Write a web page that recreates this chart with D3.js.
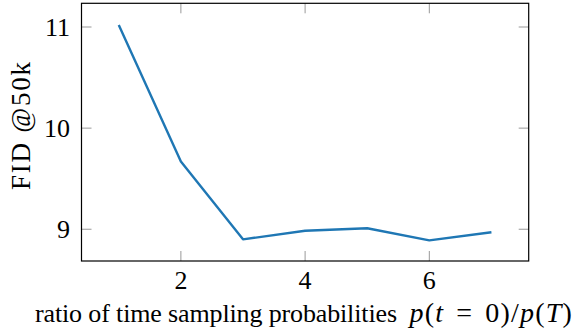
<!DOCTYPE html>
<html><head><meta charset="utf-8">
<script src="https://cdn.jsdelivr.net/npm/d3@7"></script>
<style>body{margin:0;background:#fff}svg{display:block}</style>
</head><body>
<svg id="c" width="574" height="332"></svg>
<script>
const ratios = [1, 2, 3, 4, 5, 6, 7];
const fid = [11.02, 9.67, 8.90, 8.985, 9.01, 8.89, 8.97];
const xTicks = [2, 4, 6];
const yTicks = [9, 10, 11];

const svg = d3.select("#c");
const L = 81.5, R = 528.7, T = 3.3, B = 261;
const x = d3.scaleLinear().domain([0.4, 7.6]).range([L, R]);
const y = d3.scaleLinear().domain([8.686, 11.2345]).range([B, T]);
const font = "'Liberation Serif', serif";
const tickLen = 10;
const fs = 26;

const g = svg.append("g");
xTicks.forEach(v => {
  g.append("line").attr("x1", x(v)).attr("x2", x(v)).attr("y1", B).attr("y2", B - tickLen).attr("stroke", "#999").attr("stroke-width", 1);
  g.append("line").attr("x1", x(v)).attr("x2", x(v)).attr("y1", T).attr("y2", T + tickLen).attr("stroke", "#999").attr("stroke-width", 1);
  g.append("text").attr("x", x(v)).attr("y", 289).attr("text-anchor", "middle")
    .attr("font-family", font).attr("font-size", fs).text(v);
});
yTicks.forEach(v => {
  g.append("line").attr("x1", L).attr("x2", L + tickLen).attr("y1", y(v)).attr("y2", y(v)).attr("stroke", "#999").attr("stroke-width", 1);
  g.append("line").attr("x1", R).attr("x2", R - tickLen).attr("y1", y(v)).attr("y2", y(v)).attr("stroke", "#999").attr("stroke-width", 1);
  g.append("text").attr("x", 70).attr("y", y(v) + 8.8).attr("text-anchor", "end")
    .attr("font-family", font).attr("font-size", fs).text(v);
});

const line = d3.line().x((d, i) => x(ratios[i])).y(d => y(d));
svg.append("path").datum(fid).attr("d", line).attr("fill", "none")
  .attr("stroke", "#1f77b4").attr("stroke-width", 2.4).attr("stroke-linejoin", "round");

svg.append("rect").attr("x", L).attr("y", T).attr("width", R - L).attr("height", B - T)
  .attr("fill", "none").attr("stroke", "#000").attr("stroke-width", 1.2);

svg.append("text").attr("x", 35).attr("y", 321.5).attr("text-anchor", "start")
  .attr("font-family", font).attr("font-size", 26)
  .attr("textLength", 362).attr("lengthAdjust", "spacing")
  .text("ratio of time sampling probabilities");
const xm = svg.append("text").attr("x", 573).attr("y", 321.5).attr("text-anchor", "end")
  .attr("font-family", font).attr("font-size", 28).attr("letter-spacing", 1.2);
xm.append("tspan").attr("font-style", "italic").text("p");
xm.append("tspan").text("(");
xm.append("tspan").attr("font-style", "italic").text("t");
xm.append("tspan").attr("dx", 12).text("=");
xm.append("tspan").attr("dx", 12).text("0)/");
xm.append("tspan").attr("font-style", "italic").text("p");
xm.append("tspan").text("(");
xm.append("tspan").attr("font-style", "italic").text("T");
xm.append("tspan").text(")");

svg.append("text").attr("transform", `translate(30,190) rotate(-90)`)
  .attr("text-anchor", "start").attr("font-family", font).attr("font-size", 27)
  .attr("textLength", 128).attr("lengthAdjust", "spacing")
  .text("FID @50k");
</script>
</body></html>
